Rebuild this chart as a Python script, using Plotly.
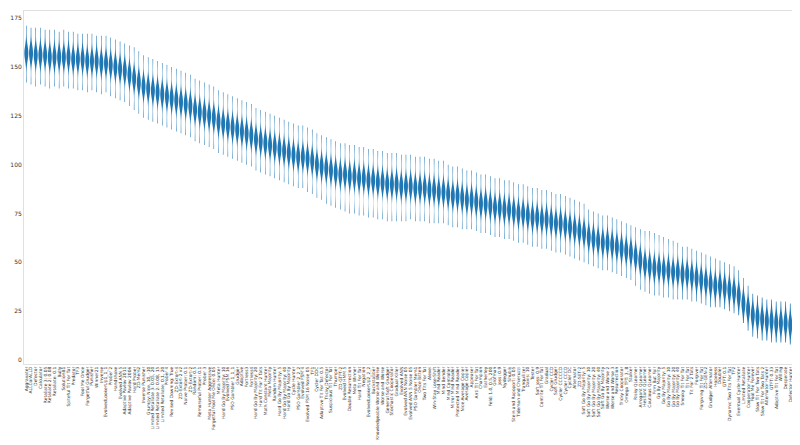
import plotly.graph_objects as go

# strategy names, ordered by median wins (as in the reference)
strategies = [
    "Aggravater", "ALLCorALLD", "Defector", "Calculator", "Retaliate 3: 0.05",
    "Retaliate 2: 0.08", "Retaliate: 0.1", "Bully", "SolutionB1", "Spiteful Tit For Tat",
    "Predator", "TF3", "Fool Me Once", "Forgetful Grudger", "Punisher",
    "Winner21", "Inverse", "EvolvedLookerUp1_1_1", "Prober 2", "Handshake",
    "Evolved ANN 5", "Adaptive Pavlov 2011", "Adaptive Pavlov 2006", "Hard Prober", "ZD-Mem2",
    "Inverse Punisher", "Grumpy: Nice, 10, -10", "Limited Retaliate 3: 0.05, 20", "Limited Retaliate 2: 0.08, 15", "Limited Retaliate: 0.1, 20",
    "Prober 4", "Revised Downing: True", "ZD-Extort-4", "ZD-Extort-2 v2", "Naive Prober: 0.1",
    "ZD-Extort-2", "Random: 0.5", "Remorseful Prober: 0.1", "Prober 3", "Meta Hunter Aggressive",
    "Forgetful Fool Me Once: 0.05", "Meta Hunter", "Hard Go By Majority: 10", "Evolved FSM 16", "PSO Gambler 1_1_1",
    "Grudger", "Adaptive", "Fortress3", "Fortress4", "Hard Go By Majority: 20",
    "Hard Tit For 2 Tats", "Math Constant Hunter", "Meta Majority", "Random Hunter", "Hard Go By Majority: 5",
    "Hard Go By Majority: 40", "Hard Go By Majority", "Cycle Hunter", "PSO Gambler 2_2_2", "Evolved FSM 4",
    "Evolved FSM 16 Noise 05", "TF1", "Cycler DDC", "Adaptive Tit For Tat: 0.5", "Tricky Defector",
    "Suspicious Tit For Tat", "Thumper", "ZD-GTFT-2", "Evolved HMM 5", "Double Resurrection",
    "Meta Winner", "Hard Tit For Tat", "Negation", "EvolvedLookerUp2_2_2", "Backstabber",
    "Knowledgeable Worse and Worse", "Worse and Worse", "General Soft Grudger", "Stochastic Cooperator", "Gradual Killer",
    "Evolved ANN", "Evolved ANN Noise 05", "Evolved ANN 5 Noise 05", "PSO Gambler Mem1", "Once Bitten",
    "Two Tits For Tat", "Alexei", "Win-Stay Lose-Shift", "Mind Reader", "Mind Bender",
    "Mind Controller", "Mirror Mind Reader", "Protected Mind Reader", "Nice Average Copier", "Average Copier",
    "Appeaser", "Anti Tit For Tat", "Champion", "Eatherley", "Feld: 1.0, 0.5, 200",
    "Grofman", "Joss: 0.9", "Nydegger", "Shubik", "Stein and Rapoport: 0.05",
    "Tideman and Chieruzzi", "Tranquilizer", "Davis: 10", "Tester", "Soft Joss: 0.9",
    "Contrite Tit For Tat", "Gradual", "Cycler CCD", "Soft Grudger", "Cycler CCCCCD",
    "Cycler CCCD", "Cycler DC", "Alternator", "ZD-SET-2", "Soft Go By Majority: 5",
    "Soft Go By Majority: 10", "Soft Go By Majority: 20", "Soft Go By Majority: 40", "Soft Go By Majority", "Worse and Worse 2",
    "Worse and Worse 3", "Resurrection", "Tricky Cooperator", "Omega TFT: 3, 8", "Stalker",
    "Risky QLearner", "Arrogant QLearner", "Hesitant QLearner", "Cautious QLearner", "Firm But Fair",
    "Go By Majority", "Go By Majority: 5", "Go By Majority: 10", "Go By Majority: 20", "Go By Majority: 40",
    "Sneaky Tit For Tat", "Tit For Tat", "Tit For 2 Tats", "Forgiver", "Forgiving Tit For Tat",
    "ZD-GEN-2", "Grudger Alternator", "Hopeless", "Doubler", "GTFT: 0.1",
    "Dynamic Two Tits For Tat", "TF2", "Eventual Cycle Hunter", "Limited Retaliate", "Cooperator Hunter",
    "Fool Me Forever", "Slow Tit For Two Tats", "Slow Tit For Two Tats 2", "Alternator Hunter", "GTFT: 0.33",
    "Adaptive Tit For Tat", "Willing", "Desperate", "Defector Hunter", "Gambler",
    "Cooperator",
]

# median number of wins per strategy
medians = [
    157, 157, 156, 156, 156, 155, 155, 155, 155, 155,
    154, 154, 154, 153, 153, 153, 152, 152, 151, 150,
    149, 148, 146, 144, 142, 140, 139, 138, 137, 136,
    135, 134, 133, 132, 131, 130, 128, 127, 126, 125,
    124, 122, 121, 120, 119, 118, 117, 116, 115, 113,
    112, 111, 110, 109, 108, 107, 106, 105, 104, 104,
    103, 102, 100, 99, 98, 97, 96, 95, 95, 94,
    94, 93, 93, 92, 92, 91, 91, 90, 90, 90,
    89, 89, 89, 88, 88, 88, 87, 87, 86, 86,
    85, 84, 84, 83, 82, 82, 81, 80, 80, 79,
    78, 78, 77, 77, 76, 75, 75, 74, 73, 73,
    72, 72, 71, 70, 70, 69, 68, 67, 66, 65,
    63, 62, 61, 60, 60, 59, 58, 57, 56, 55,
    53, 51, 49, 48, 47, 47, 46, 46, 45, 45,
    44, 44, 43, 42, 41, 40, 39, 38, 38, 37,
    36, 35, 33, 29, 26, 23, 22, 21, 20, 20,
    19, 19, 19, 18, 18, 18, 17, 17, 16, 16, 15,
]

# lowest / highest wins seen (tails of each violin)
lows = [
    142, 141, 140, 141, 140, 139, 140, 139, 140, 139,
    139, 138, 138, 137, 138, 137, 136, 137, 135, 134,
    133, 132, 130, 128, 126, 124, 123, 122, 121, 120,
    119, 118, 117, 116, 115, 114, 112, 111, 110, 109,
    108, 106, 105, 104, 103, 102, 101, 100, 99, 97,
    96, 95, 94, 93, 92, 91, 90, 89, 88, 88,
    86, 85, 83, 82, 80, 79, 78, 77, 76, 75,
    75, 74, 74, 73, 73, 72, 72, 71, 71, 71,
    71, 71, 72, 71, 71, 71, 70, 70, 70, 70,
    69, 68, 68, 67, 67, 67, 66, 65, 65, 64,
    63, 63, 62, 62, 61, 60, 60, 59, 58, 58,
    57, 57, 56, 55, 55, 54, 53, 52, 51, 50,
    49, 48, 47, 46, 46, 45, 44, 43, 42, 41,
    38, 36, 35, 34, 33, 33, 32, 32, 31, 31,
    31, 31, 30, 30, 29, 28, 27, 27, 27, 26,
    25, 24, 23, 19, 15, 12, 11, 10, 10, 9,
    9, 9, 9, 8, 8, 8, 8, 8, 7, 7, 6,
]

highs = [
    171, 170, 170, 170, 169, 169, 169, 168, 169, 168,
    168, 167, 167, 167, 167, 166, 166, 166, 165, 164,
    163, 162, 161, 160, 158, 156, 155, 154, 153, 152,
    151, 150, 149, 148, 147, 146, 144, 143, 142, 141,
    140, 138, 137, 136, 135, 134, 133, 132, 131, 129,
    128, 127, 126, 125, 124, 123, 122, 121, 120, 120,
    119, 118, 116, 115, 114, 113, 112, 111, 111, 110,
    110, 109, 109, 108, 108, 107, 107, 106, 106, 106,
    105, 105, 105, 104, 104, 104, 103, 103, 102, 102,
    100, 99, 99, 98, 97, 97, 96, 95, 95, 94,
    93, 93, 92, 92, 91, 90, 90, 89, 88, 88,
    87, 87, 86, 85, 85, 84, 83, 82, 81, 80,
    77, 76, 75, 74, 74, 73, 72, 71, 70, 69,
    68, 67, 66, 66, 65, 64, 63, 62, 61, 60,
    58, 58, 57, 56, 55, 54, 53, 52, 51, 50,
    49, 48, 46, 42, 38, 34, 33, 32, 31, 31,
    30, 30, 30, 29, 29, 29, 28, 28, 27, 27, 26,
]

n = min(len(strategies), len(medians), len(lows), len(highs))
xs, ys = [], []
for name, lo, med, hi in zip(strategies[:n], lows[:n], medians[:n], highs[:n]):
    # most tournament repetitions land near the median, a few in the tails
    for v in [lo] + [med] * 7 + [hi]:
        xs.append(name)
        ys.append(v)

fig = go.Figure(go.Violin(
    x=xs, y=ys,
    bandwidth=4,
    width=0.85,
    spanmode="hard",
    points=False,
    fillcolor="#1f77b4",
    line=dict(color="rgba(31,119,180,0)", width=0),
    opacity=1,
    scalemode="width",
    hoverinfo="skip",
))

fig.update_layout(
    width=800, height=445,
    margin=dict(l=12, r=6, t=2, b=89),
    paper_bgcolor="white", plot_bgcolor="white",
    showlegend=False,
    font=dict(family="DejaVu Sans", color="#333"),
)
fig.update_xaxes(
    type="category", categoryorder="array", categoryarray=strategies[:n],
    range=[-0.5, n - 0.5], tickmode="linear", tick0=0, dtick=1,
    tickangle=-90, tickfont=dict(size=4.4),
    showline=True, linecolor="#e0e0e0", mirror=True, showgrid=False, ticks="",
)
fig.update_yaxes(
    range=[-2, 178.6], tickvals=[0, 25, 50, 75, 100, 125, 150, 175],
    tickfont=dict(size=6), showline=True, linecolor="#e0e0e0", mirror=True,
    showgrid=False, zeroline=False, ticks="",
)

fig.write_html("out.html")
